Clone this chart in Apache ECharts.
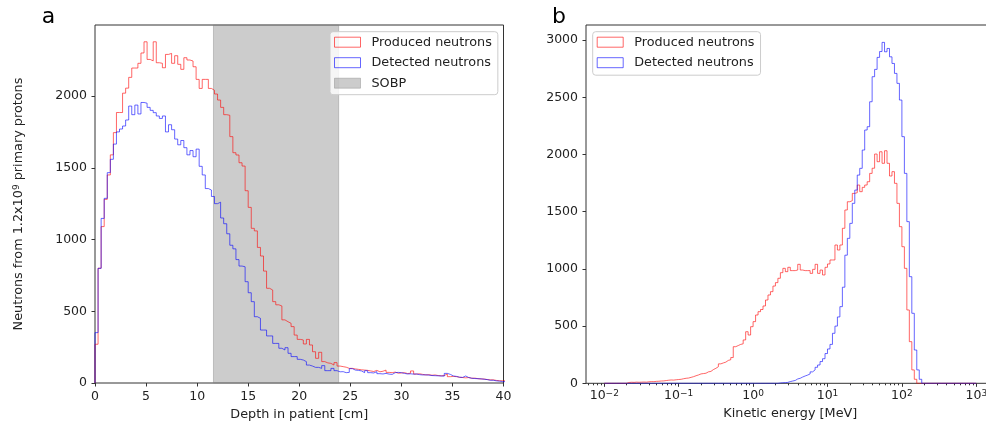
<!DOCTYPE html>
<html><head><meta charset="utf-8">
<script src="https://cdn.jsdelivr.net/npm/echarts@6/dist/echarts.min.js"></script>
<style>html,body{margin:0;padding:0;background:#fff}#c{width:986px;height:425px}</style>
</head><body><div id="c"></div>
<script>
// ---------- Panel a : depth histograms (bin width 0.3 cm, starting at 0 cm) ----------
const depthBinWidth = 0.3;
const depthProduced = [
 270, 800, 1090, 1280, 1450, 1590, 1745, 1885, 1885, 2020,
 2055, 2130, 2195, 2195, 2228, 2300, 2378, 2255, 2245, 2378,
 2232, 2228, 2197, 2290, 2297, 2228, 2281, 2221, 2186, 2267,
 2251, 2244, 2204, 2116, 2053, 2116, 2116, 2053, 2040, 2014,
 1972, 1921, 1870, 1866, 1717, 1605, 1589, 1535, 1512, 1340,
 1224, 1078, 1060, 945, 885, 780, 660, 648, 567, 545,
 537, 440, 427, 416, 393, 334, 304, 300, 272, 304,
 265, 218, 172, 214, 149, 140, 137, 125, 142, 118,
 114, 110, 102, 102, 98, 95, 92, 90, 88, 84,
 80, 88, 78, 82, 90, 74, 72, 76, 68, 70,
 72, 66, 68, 84, 62, 64, 60, 56, 58, 54,
 56, 52, 50, 52, 63, 44, 46, 44, 40, 38,
 36, 38, 33, 34, 30, 28, 28, 24, 22, 22,
 18, 16, 16, 15];
const depthDetected = [
 351, 799, 1147, 1287, 1466, 1559, 1665, 1750, 1770, 1791,
 1833, 1930, 1870, 1937, 1875, 1955, 1950, 1921, 1900, 1884,
 1861, 1844, 1861, 1750, 1800, 1765, 1700, 1660, 1690, 1640,
 1590, 1620, 1577, 1630, 1510, 1450, 1355, 1345, 1300, 1250,
 1260, 1150, 1110, 1040, 960, 935, 860, 815, 810, 706,
 629, 567, 462, 451, 369, 369, 328, 328, 276, 276,
 242, 230, 246, 207, 184, 184, 165, 160, 149, 125,
 118, 109, 109, 102, 121, 86, 86, 102, 86, 78,
 79, 72, 74, 100, 90, 88, 84, 72, 86, 72,
 70, 79, 65, 63, 67, 62, 60, 72, 74, 72,
 67, 63, 64, 62, 63, 58, 56, 57, 55, 52,
 51, 50, 49, 48, 67, 60, 49, 46, 40, 39,
 49, 38, 33, 31, 30, 29, 26, 24, 19, 19,
 15, 13, 10, 9];
const sobpRange = [11.6, 23.86];
const depthTicks = [0, 5, 10, 15, 20, 25, 30, 35, 40];
const depthCountTicks = [0, 500, 1000, 1500, 2000];

// ---------- Panel b : kinetic energy histograms (150 log bins, 1e-2 .. 1e3 MeV) ----------
const energyLogMin = -2, energyLogMax = 3, energyBins = 150;
const energyProduced = [
 0, 0, 0, 0, 0, 0, 0, 0, 0, 7,
 9, 8, 10, 9, 10, 11, 10, 13, 15, 14,
 17, 18, 20, 21, 24, 27, 29, 28, 31, 33,
 35, 40, 44, 46, 52, 58, 66, 73, 82, 85,
 88, 100, 104, 120, 131, 145, 170, 178, 185, 200,
 206, 225, 320, 330, 340, 345, 379, 451, 422, 495,
 539, 597, 626, 645, 676, 728, 772, 801, 850, 880,
 918, 967, 1005, 976, 1014, 985, 985, 990, 1040, 990,
 985, 985, 985, 961, 996, 1040, 961, 990, 947, 1014,
 1043, 1078, 1078, 1209, 1165, 1209, 1355, 1515, 1587, 1596,
 1660, 1666, 1733, 1675, 1713, 1733, 1762, 1835, 1880, 2004,
 1937, 2024, 1923, 2033, 1923, 1812, 1850, 1748, 1573, 1369,
 1194, 1005, 641, 364, 117, 35, 0, 0, 0, 0,
 0, 0, 0, 0, 0, 0, 0, 0, 0, 0,
 0, 0, 0, 0, 0, 0, 0, 0, 0, 0];
const energyDetected = [
 0, 0, 0, 0, 0, 0, 0, 0, 0, 0,
 0, 0, 0, 0, 0, 0, 0, 0, 0, 0,
 0, 0, 0, 0, 0, 0, 0, 0, 0, 0,
 0, 0, 0, 0, 0, 0, 0, 0, 0, 0,
 0, 0, 0, 0, 0, 0, 0, 0, 0, 0,
 0, 0, 0, 0, 0, 0, 0, 0, 0, 0,
 0, 0, 0, 0, 0, 0, 0, 0, 0, 0,
 3, 5, 6, 8, 15, 20, 25, 38, 44, 55,
 64, 72, 82, 100, 117, 140, 160, 190, 215, 260,
 300, 340, 437, 500, 580, 670, 840, 1120, 1267, 1398,
 1573, 1689, 1820, 1879, 2039, 2214, 2243, 2461, 2680, 2744,
 2849, 2900, 2980, 2898, 2927, 2854, 2796, 2709, 2622, 2476,
 2156, 1835, 1413, 932, 612, 291, 117, 35, 0, 0,
 0, 0, 0, 0, 0, 0, 0, 0, 0, 0,
 0, 0, 0, 0, 0, 0, 0, 0, 0, 0];
const energyDecades = [-2, -1, 0, 1, 2, 3];
const energyCountTicks = [0, 500, 1000, 1500, 2000, 2500, 3000];

// ---------- build ----------
const depthEdges = [];
for (let i = 0; i <= depthProduced.length; i++) depthEdges.push(i * depthBinWidth);
const energyEdges = [];
for (let i = 0; i <= energyBins; i++) energyEdges.push(energyLogMin + i * (energyLogMax - energyLogMin) / energyBins);
const eMin = -2.246, eMax = 3.246;
const minorLogTicks = [];
for (let d = -3; d <= 3; d++) for (let m = 2; m <= 9; m++) {
  const v = d + Math.log10(m);
  if (v > eMin && v < eMax) minorLogTicks.push(v);
}
function stepPoints(edges, values) {
  const pts = [[edges[0], 0]];
  for (let i = 0; i < values.length; i++) pts.push([edges[i], values[i]]);
  pts.push([edges[values.length], 0]);
  return pts;
}

const redLine = 'rgba(255,0,0,0.6)';
const blueLine = 'rgba(0,0,255,0.6)';
const sobpFill = 'rgba(128,128,128,0.4)';
const axisColor = '#333';
const txt = '#222';
const font = 'DejaVu Sans';
const labelSize = 12.5, textSize = 12.8;
const supRich = {sup: {fontSize: 9, verticalAlign: 'top', fontFamily: font, color: txt}};

function histSeries(name, color, xi, yi, pts, z) {
  return {name, type: 'line', xAxisIndex: xi, yAxisIndex: yi, data: pts, step: 'end',
    symbol: 'none', showSymbol: false, lineStyle: {color, width: 1}, itemStyle: {color},
    z, silent: true, clip: true};
}
const legendBase = {
  orient: 'vertical', padding: [3, 6, 4, 4], itemGap: 5.5, itemWidth: 26, itemHeight: 10,
  backgroundColor: 'rgba(255,255,255,0.8)', borderColor: '#cccccc', borderWidth: 1, borderRadius: 3,
  textStyle: {fontSize: textSize, color: txt, fontFamily: font, lineHeight: 15, padding: [0, 0, 0, 6]},
  selectedMode: false, z: 10
};
const legProd = {name: 'Produced neutrons', icon: 'rect', itemStyle: {color: 'rgba(0,0,0,0)', borderColor: redLine, borderWidth: 1}};
const legDet = {name: 'Detected neutrons', icon: 'rect', itemStyle: {color: 'rgba(0,0,0,0)', borderColor: blueLine, borderWidth: 1}};
const legSobp = {name: 'SOBP', icon: 'rect', itemStyle: {color: sobpFill, borderColor: sobpFill, borderWidth: 1}};

const tickStyle = (vals, len) => ({show: true, length: len, lineStyle: {color: axisColor, width: 1}, customValues: vals});
const labelStyle = (vals, margin) => ({customValues: vals, margin, fontSize: labelSize, color: txt, fontFamily: font,
  formatter: v => String(v)});
const noLine = {show: false, onZero: false};

const option = {
  animation: false,
  textStyle: {fontFamily: font},
  grid: [
    {left: 95, top: 25, width: 408.5, height: 358, show: true, borderColor: axisColor, borderWidth: 1,
     backgroundColor: 'rgba(0,0,0,0)', containLabel: false, outerBoundsMode: 'none'},
    {left: 586, top: 25, width: 408.6, height: 358.3, show: true, borderColor: axisColor, borderWidth: 1,
     backgroundColor: 'rgba(0,0,0,0)', containLabel: false, outerBoundsMode: 'none'}
  ],
  xAxis: [
    {type: 'value', gridIndex: 0, min: 0, max: 40, position: 'bottom',
     name: 'Depth in patient [cm]', nameLocation: 'middle', nameGap: 23,
     nameTextStyle: {fontSize: textSize, color: txt, fontFamily: font},
     axisLine: noLine, splitLine: {show: false},
     axisTick: tickStyle(depthTicks, 3.5), axisLabel: labelStyle(depthTicks, 7)},
    {type: 'value', gridIndex: 1, min: eMin, max: eMax, position: 'bottom',
     name: 'Kinetic energy [MeV]', nameLocation: 'middle', nameGap: 23,
     nameTextStyle: {fontSize: textSize, color: txt, fontFamily: font},
     axisLine: noLine, splitLine: {show: false},
     axisTick: tickStyle(energyDecades, 3.5),
     axisLabel: Object.assign(labelStyle(energyDecades, 6), {
       formatter: v => '10{sup|' + (v < 0 ? '\u2212' + (-v) : String(v)) + '}', rich: supRich})},
    {type: 'value', gridIndex: 1, min: eMin, max: eMax, position: 'bottom',
     axisLine: noLine, splitLine: {show: false}, axisLabel: {show: false},
     axisTick: tickStyle(minorLogTicks, 2)}
  ],
  yAxis: [
    {type: 'value', gridIndex: 0, min: 0, max: 2495,
     name: 'Neutrons from 1.2x10{sup|9} primary protons', nameLocation: 'middle', nameGap: 70, nameRotate: 90,
     nameTextStyle: {fontSize: textSize, color: txt, fontFamily: font, rich: supRich},
     axisLine: noLine, splitLine: {show: false},
     axisTick: tickStyle(depthCountTicks, 3.5), axisLabel: labelStyle(depthCountTicks, 8)},
    {type: 'value', gridIndex: 1, min: 0, max: 3132,
     axisLine: noLine, splitLine: {show: false},
     axisTick: tickStyle(energyCountTicks, 3.5), axisLabel: labelStyle(energyCountTicks, 8)}
  ],
  legend: [
    Object.assign({}, legendBase, {left: 330, top: 31.7, data: [legProd, legDet, legSobp]}),
    Object.assign({}, legendBase, {left: 592.7, top: 31.7, padding: [3, 6, 5, 4], data: [legProd, legDet]})
  ],
  graphic: [
    {type: 'text', x: 41.7, y: 17.4, style: {text: 'a', fontSize: 22, fill: '#000', fontFamily: font, verticalAlign: 'middle'}},
    {type: 'text', x: 552, y: 17.4, style: {text: 'b', fontSize: 22, fill: '#000', fontFamily: font, verticalAlign: 'middle'}}
  ],
  series: [
    histSeries('Produced neutrons', redLine, 0, 0, stepPoints(depthEdges, depthProduced), 2),
    histSeries('Detected neutrons', blueLine, 0, 0, stepPoints(depthEdges, depthDetected), 2),
    {name: 'SOBP', type: 'line', xAxisIndex: 0, yAxisIndex: 0, data: [], z: 5, silent: true,
     itemStyle: {color: sobpFill}, lineStyle: {color: sobpFill},
     markArea: {silent: true, itemStyle: {color: sobpFill, borderColor: sobpFill, borderWidth: 1},
       data: [[{xAxis: sobpRange[0]}, {xAxis: sobpRange[1]}]]}},
    histSeries('Produced neutrons', redLine, 1, 1, stepPoints(energyEdges, energyProduced), 2),
    histSeries('Detected neutrons', blueLine, 1, 1, stepPoints(energyEdges, energyDetected), 2)
  ]
};
const chart = echarts.init(document.getElementById('c'));
chart.setOption(option);
</script></body></html>
